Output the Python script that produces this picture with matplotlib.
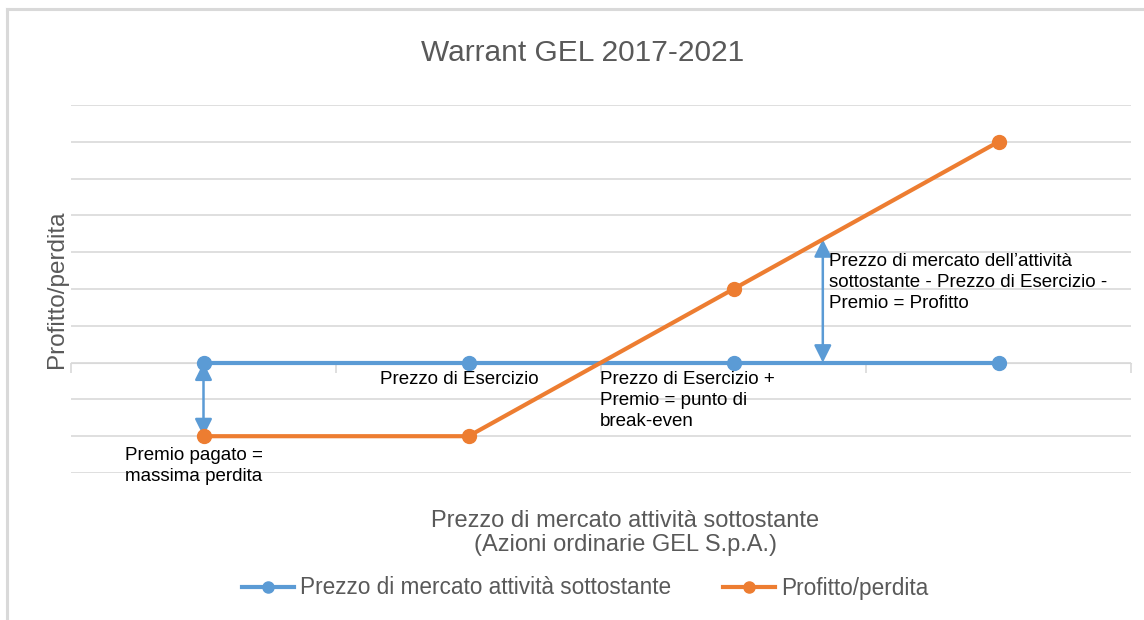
import matplotlib
matplotlib.use('Agg')
import matplotlib.pyplot as plt
from matplotlib.lines import Line2D

plt.rcParams['font.family'] = ['Liberation Sans', 'DejaVu Sans']

# dati
categorie = [1, 2, 3, 4]
prezzo_mercato = [0, 0, 0, 0]
profitto_perdita = [-2, -2, 2, 6]

# frecce (x, y inizio, y fine)
freccia_premio = (0, 0, -2)
freccia_profitto = (2.337, 0, 3.35)

BLU = '#5B9BD5'
ARANCIO = '#ED7D31'
GRIGIO = '#595959'
GRIGLIA = '#D9D9D9'

fig = plt.figure(figsize=(11.44, 6.2), dpi=100)
ax = fig.add_axes([71 / 1144, 1 - 473 / 620, 1060 / 1144, 368 / 620])

x = list(range(len(categorie)))
ax.plot(x, prezzo_mercato, color=BLU, lw=3, marker='o', ms=10, zorder=3,
        label='Prezzo di mercato attività sottostante')
ax.plot(x, profitto_perdita, color=ARANCIO, lw=3, marker='o', ms=10, zorder=4,
        label='Profitto/perdita')

ax.set_xlim(-0.5, len(categorie) - 0.5)
ax.set_ylim(-3, 7)
ax.set_yticks(range(-3, 8))
ax.yaxis.grid(True, color=GRIGLIA, lw=1.2)
ax.set_axisbelow(True)
ax.tick_params(axis='y', length=0, labelleft=False)
ax.set_xticks([i - 0.5 for i in range(len(categorie) + 1)])
ax.tick_params(axis='x', length=7, width=1.2, color=GRIGLIA, labelbottom=False, direction='out')
for s in ['top', 'right', 'left']:
    ax.spines[s].set_visible(False)
ax.spines['bottom'].set_position(('data', 0))
ax.spines['bottom'].set_color(GRIGLIA)

# frecce
for fx, y0, y1 in [freccia_premio, freccia_profitto]:
    ax.annotate('', xy=(fx, y1), xytext=(fx, y0),
                arrowprops=dict(arrowstyle='<|-|>', color=BLU, lw=1.8,
                                mutation_scale=26, shrinkA=0, shrinkB=0), zorder=2)

# testi
kw = dict(fontsize=13.5, color='black', va='top', ha='left', linespacing=1.3)
ax.text(0.667, -0.22, 'Prezzo di Esercizio', **kw)
ax.text(1.496, -0.24, 'Prezzo di Esercizio +\nPremio = punto di\nbreak-even', **kw)
ax.text(-0.295, -2.29, 'Premio pagato =\nmassima perdita', **kw)
ax.text(2.36, 2.98, 'Prezzo di mercato dell’attività\nsottostante - Prezzo di Esercizio -\nPremio = Profitto', **kw)

fig.text(583 / 1144, 1 - 53 / 620, 'Warrant GEL 2017-2021', ha='center', va='center',
         fontsize=21.5, color=GRIGIO)
ax.set_xlabel('Prezzo di mercato attività sottostante\n(Azioni ordinarie GEL S.p.A.)',
              fontsize=17, color=GRIGIO, labelpad=0, linespacing=1.15)
ax.xaxis.set_label_coords((625 - 71) / 1060, -0.1)
ax.xaxis.label.set_va('top')
ax.set_ylabel('Profitto/perdita', fontsize=17.5, color=GRIGIO)
ax.yaxis.set_label_coords(-0.003, 0.5)

fig.legend(loc='center', bbox_to_anchor=(585 / 1144, 1 - 588 / 620), ncol=2, frameon=False,
           handlelength=2.3, columnspacing=2.3, handletextpad=0.25, markerscale=0.8,
           labelcolor=GRIGIO, prop={'size': 16.3})

# cornice
fig.add_artist(Line2D([7 / 1144, 7 / 1144], [0, 1 - 9 / 620], color=GRIGLIA, lw=2.2))
fig.add_artist(Line2D([7 / 1144, 1], [1 - 9 / 620, 1 - 9 / 620], color=GRIGLIA, lw=2.2))

fig.savefig('out.png', dpi=100)
